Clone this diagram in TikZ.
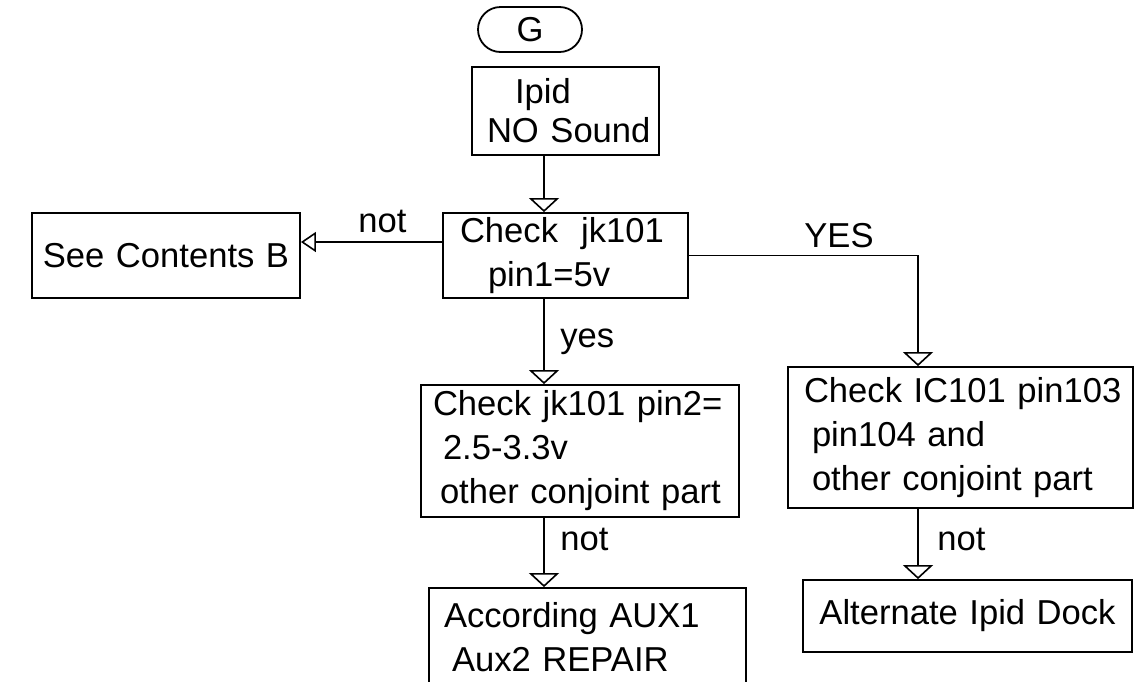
\documentclass[tikz,border=0pt]{standalone}
\usepackage{fontspec}
\setmainfont{Liberation Sans}
\usetikzlibrary{positioning,arrows.meta,shapes.misc}

\begin{document}
\begin{tikzpicture}[x=0.5pt, y=-0.5pt,
        proc/.style={draw, line width=0.9pt, align=left, inner xsep=0pt, inner ysep=0pt, text width=#1, font=\fontsize{17.3}{22}\selectfont},
        term/.style={draw, rounded rectangle, line width=0.9pt, minimum width=52pt, minimum height=22.5pt, inner sep=0pt, font=\fontsize{17.3}{22}\selectfont},
        lab/.style={anchor=base west, inner sep=0pt, font=\fontsize{17.3}{22}\selectfont},
        flow/.style={line width=0.8pt, -{Triangle[open, width=15pt, length=7pt]}}
    ]
    \useasboundingbox (0,0) rectangle (1134,681);

    \node[term]                                   (g)    at (530,29.5)  {G};
    \node[proc=93.5pt, minimum height=44pt, font=\fontsize{17.3}{19.5}\selectfont]
                                                  (ipid) at (565.5,111) {\hspace*{21.5pt}Ipid\\\hspace*{7.5pt}NO Sound};
    \node[proc=122.5pt, minimum height=42.5pt]    (chk)  at (565.5,255.5) {\hspace*{8.5pt}Check\ \ jk101\\\hspace*{22.5pt}pin1=5v};
    \node[proc=134pt, minimum height=42.5pt, align=center]
                                                  (see)  at (166,255.5) {See Contents B};
    \node[proc=159pt, minimum height=66pt]        (pin2) at (580,451)   {\hspace*{6pt}Check jk101 pin2=\\\hspace*{11pt}2.5-3.3v\\\hspace*{9.5pt}other conjoint part};
    \node[proc=172.5pt, minimum height=70.5pt]    (ic)   at (960.5,437.5) {\hspace*{8pt}Check IC101 pin103\\\hspace*{12pt}pin104 and\\\hspace*{12pt}other conjoint part};
    \node[proc=164.5pt, minimum height=36pt, align=center]
                                                  (alt)  at (967.5,616) {Alternate Ipid Dock};
    \node[proc=158.5pt, minimum height=49.5pt]    (aux)  at (587.5,637.5) {\hspace*{7.5pt}According AUX1\\\hspace*{11.5pt}Aux2 REPAIR};

    \coordinate (spine)  at (544,0);
    \coordinate (rspine) at (918,0);
    \coordinate (notrow) at (0,242);

    \draw[flow] (ipid.south -| spine) -- (chk.north -| spine);
    \draw[flow, -{Triangle[open, width=10pt, length=7.5pt]}] (chk.west |- notrow) -- (see.east |- notrow);
    \draw[flow] (chk.east) -| (ic.north -| rspine);
    \draw[flow] (chk.south -| spine) -- (pin2.north -| spine);
    \draw[flow] (pin2.south -| spine) -- (aux.north -| spine);
    \draw[flow] (ic.south -| rspine) -- (alt.north -| rspine);

    \node[lab] (lnot)  at (358,232) {not};
    \node[lab] (lYES)  at (804,247) {YES};
    \node[lab] (lyes)  at (560,347) {yes};
    \node[lab] (lnot2) at (560,550) {not};
    \node[lab] (lnot3) at (937,550) {not};
\end{tikzpicture}
\end{document}
